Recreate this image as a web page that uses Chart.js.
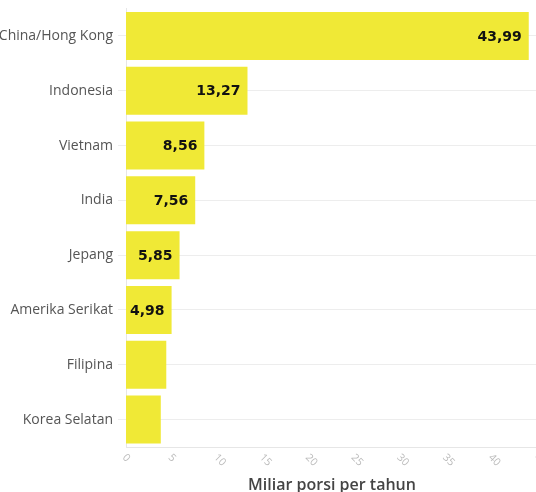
<!DOCTYPE html>
<html lang="id">
<head>
    <meta charset="UTF-8">
    <title>Konsumsi mi instan</title>
    <script src="https://cdn.jsdelivr.net/npm/chart.js"></script>
    <style>
        html, body {
            margin: 0;
            padding: 0;
            background: #fff;
            overflow: hidden;
        }
        /* chart is a bit wider than the window: left label and last tick get cut like the original */
        .wrap {
            position: absolute;
            left: -8px;
            top: 0;
            width: 546px;
            height: 495px;
        }
    </style>
</head>
<body>
    <div class="wrap"><canvas id="chart"></canvas></div>

    <script>
        const countries = ["China/Hong Kong", "Indonesia", "Vietnam", "India", "Jepang", "Amerika Serikat", "Filipina", "Korea Selatan"];
        const servings = [43.99, 13.27, 8.56, 7.56, 5.85, 4.98, 4.4, 3.8];
        const xTicks = [0, 5, 10, 15, 20, 25, 30, 35, 40, 45];
        const axisTitle = "Miliar porsi per tahun";
        const minLabelled = 4.5; // smaller bars carry no value label

        // value labels inside the end of each bar
        const barLabels = {
            id: 'barLabels',
            afterDatasetsDraw(chart) {
                const ctx = chart.ctx;
                const meta = chart.getDatasetMeta(0);
                ctx.save();
                ctx.font = 'bold 14px "DejaVu Sans"';
                ctx.fillStyle = '#111';
                ctx.textAlign = 'right';
                ctx.textBaseline = 'middle';
                meta.data.forEach((bar, i) => {
                    const v = servings[i];
                    if (v < minLabelled) return;
                    ctx.fillText(v.toFixed(2).replace('.', ','), bar.x - 7, bar.y + 1);
                });
                ctx.restore();
            }
        };

        // x tick labels turned clockwise, hanging from each tick
        const xTickLabels = {
            id: 'xTickLabels',
            afterDraw(chart) {
                const ctx = chart.ctx;
                const x = chart.scales.x;
                ctx.save();
                ctx.font = '10.5px "Open Sans"';
                ctx.fillStyle = '#bbb';
                ctx.textAlign = 'left';
                ctx.textBaseline = 'middle';
                xTicks.forEach(v => {
                    ctx.save();
                    ctx.translate(x.getPixelForValue(v) - 2, x.top + 9);
                    ctx.rotate(Math.PI / 4);
                    ctx.fillText(String(v), 0, 0);
                    ctx.restore();
                });
                ctx.restore();
            }
        };

        new Chart(document.getElementById('chart'), {
            type: 'bar',
            data: {
                labels: countries,
                datasets: [{
                    data: servings,
                    backgroundColor: '#f0e936',
                    borderWidth: 0,
                    barPercentage: 0.875,
                    categoryPercentage: 1
                }]
            },
            options: {
                indexAxis: 'y',
                responsive: true,
                maintainAspectRatio: false,
                animation: false,
                layout: { padding: { top: 8, right: 0, bottom: 0, left: 0 } },
                plugins: {
                    legend: { display: false },
                    tooltip: { enabled: false }
                },
                scales: {
                    x: {
                        min: 0,
                        max: 45,
                        afterFit(scale) { scale.height = 48; },
                        grid: { display: false, drawTicks: false },
                        border: { display: true, color: '#e6e6e6' },
                        ticks: { display: false },
                        title: {
                            display: true,
                            text: axisTitle,
                            color: '#444',
                            padding: { top: 0, bottom: 0 },
                            font: { family: '"Open Sans"', size: 16, weight: '600' }
                        }
                    },
                    y: {
                        afterFit(scale) { scale.width = 134; },
                        grid: {
                            color: '#ededed',
                            tickLength: 8,
                            offset: false
                        },
                        border: { display: true, color: '#e6e6e6' },
                        ticks: {
                            padding: 5,
                            color: '#555',
                            font: { family: '"Open Sans"', size: 14, weight: '500', lineHeight: 0.5 }
                        }
                    }
                }
            },
            plugins: [barLabels, xTickLabels]
        });
    </script>
</body>
</html>
